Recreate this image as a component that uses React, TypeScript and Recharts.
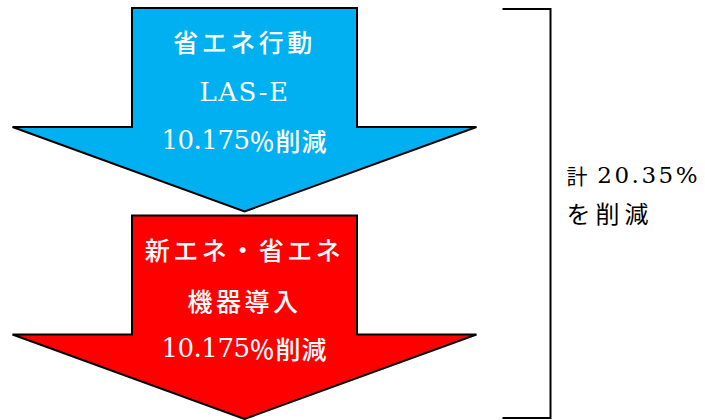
import React from "react";
import { BarChart, Bar, XAxis, YAxis } from "recharts";

// two reduction steps stacked into one column, plus the total in a second column
const categories = ["steps", "total"];
const actionSaving = [10.175, null]; // 省エネ行動 LAS-E
const equipmentSaving = [10.175, null]; // 新エネ・省エネ機器導入
const totalSaving = [null, 20.35];

const actionLines = ["省エネ行動", "LAS-E"];
const equipmentLines = ["新エネ・省エネ", "機器導入"];

const data = categories.map((name, i) => ({
    name,
    equipment: equipmentSaving[i],
    action: actionSaving[i],
    total: totalSaving[i],
}));

const JP = "'Noto Sans CJK JP', sans-serif";
const SERIF = "'DejaVu Serif', 'Liberation Serif', serif";

function isAscii(s: string) {
    return /^[\x20-\x7e]+$/.test(s);
}

function ArrowShape(props: any) {
    const { x, y, width, height, payload, field, fill, lines, topPad, bottomPad } = props;
    const value = payload ? payload[field] : null;
    if (!height || value == null) return null;
    const top = Math.min(y, y + height) + topPad;
    const bottom = Math.min(y, y + height) + Math.abs(height) - bottomPad;
    const cx = x + width / 2;
    const half = width / 2;
    const headHalf = 232;
    const shoulder = top + (bottom - top) * 0.585;
    const pts = [
        [cx - half, top],
        [cx + half, top],
        [cx + half, shoulder],
        [cx + headHalf, shoulder],
        [cx, bottom],
        [cx - headHalf, shoulder],
        [cx - half, shoulder],
    ]
        .map((p) => p.join(","))
        .join(" ");
    const lineY = [33, 84, 132];
    return (
        <g>
            <polygon
                points={pts}
                fill={fill}
                stroke="#000"
                strokeWidth={2}
                strokeLinejoin="miter"
            />
            {lines.map((t: string, i: number) => (
                <text
                    key={i}
                    x={cx}
                    y={top + lineY[i]}
                    textAnchor="middle"
                    dominantBaseline="central"
                    fill="#fff"
                    style={
                        isAscii(t)
                            ? { fontFamily: SERIF, fontSize: 26, letterSpacing: 1.5 }
                            : { fontFamily: JP, fontSize: 25, letterSpacing: 3.5, fontWeight: 500 }
                    }
                >
                    {t}
                </text>
            ))}
            <text
                x={cx}
                y={top + lineY[2]}
                textAnchor="middle"
                dominantBaseline="central"
                fill="#fff"
            >
                <tspan style={{ fontFamily: SERIF, fontSize: 26, letterSpacing: -0.5 }}>
                    {value}
                </tspan>
                <tspan style={{ fontFamily: JP, fontSize: 25, letterSpacing: 1, fontWeight: 500 }}>
                    ％削減
                </tspan>
            </text>
        </g>
    );
}

function BracketShape(props: any) {
    const { x, y, width, height, payload } = props;
    const value = payload ? payload.total : null;
    if (!height || value == null) return null;
    const top = Math.min(y, y + height) + 4;
    const bottom = Math.min(y, y + height) + Math.abs(height) - 2;
    const cx = x + width / 2;
    const left = cx - 24;
    const right = cx + 24;
    const mid = (top + bottom) / 2;
    return (
        <g>
            <polyline
                points={`${left},${top} ${right},${top} ${right},${bottom} ${left},${bottom}`}
                fill="none"
                stroke="#000"
                strokeWidth={2}
            />
            <text x={right + 16} y={mid - 39} dominantBaseline="central" fill="#000">
                <tspan style={{ fontFamily: JP, fontSize: 21 }}>計</tspan>
                <tspan style={{ fontFamily: SERIF, fontSize: 23, letterSpacing: 2.5 }}>
                    {" " + value + "%"}
                </tspan>
            </text>
            <text
                x={right + 16}
                y={mid - 1}
                dominantBaseline="central"
                fill="#000"
                style={{ fontFamily: JP, fontSize: 24, letterSpacing: 5 }}
            >
                を削減
            </text>
        </g>
    );
}

export default function App() {
    return (
        <div style={{ position: "absolute", left: 0, top: 0, background: "#fff" }}>
            <BarChart
                width={705}
                height={420}
                data={data}
                margin={{ top: 5, right: 38, bottom: 0, left: 103 }}
                barSize={225}
            >
                <XAxis dataKey="name" type="category" hide />
                <YAxis type="number" domain={[0, 20.35]} hide />
                <Bar
                    dataKey="equipment"
                    stackId="s"
                    fill="#FF0000"
                    isAnimationActive={false}
                    shape={(p: any) => (
                        <ArrowShape
                            {...p}
                            field="equipment"
                            fill="#FF0000"
                            lines={equipmentLines}
                            topPad={3}
                            bottomPad={1}
                        />
                    )}
                />
                <Bar
                    dataKey="action"
                    stackId="s"
                    fill="#00B0F0"
                    isAnimationActive={false}
                    shape={(p: any) => (
                        <ArrowShape
                            {...p}
                            field="action"
                            fill="#00B0F0"
                            lines={actionLines}
                            topPad={3}
                            bottomPad={1}
                        />
                    )}
                />
                <Bar
                    dataKey="total"
                    stackId="s"
                    isAnimationActive={false}
                    shape={(p: any) => <BracketShape {...p} />}
                />
            </BarChart>
        </div>
    );
}
